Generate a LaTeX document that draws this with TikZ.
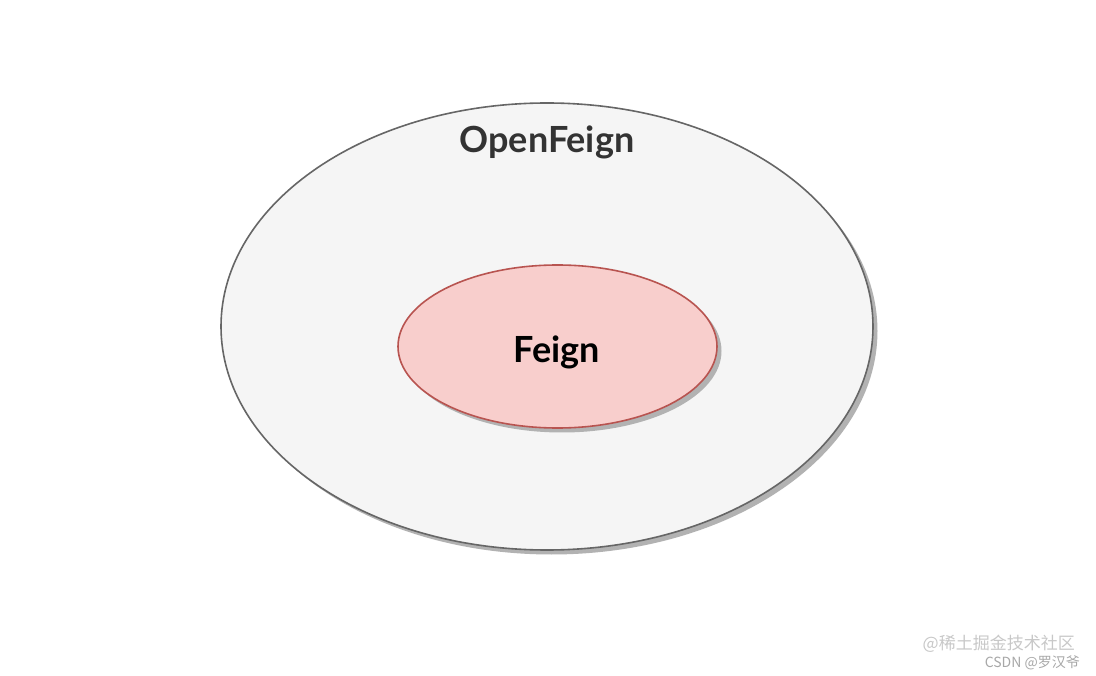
\documentclass[tikz,border=0pt]{standalone}
\usepackage{fontspec}
\setmainfont{Lato}
\newfontfamily\cjk{Noto Sans CJK SC}
\usetikzlibrary{shapes.geometric,shadows}
\definecolor{outerfill}{HTML}{F5F5F5}
\definecolor{outerline}{HTML}{666666}
\definecolor{innerfill}{HTML}{F8CECC}
\definecolor{innerline}{HTML}{B85450}
\definecolor{titletext}{HTML}{333333}
\definecolor{wmA}{HTML}{C8C8C8}
\definecolor{wmB}{HTML}{A8A8A8}
\tikzset{
  shadowed/.style={drop shadow={shadow xshift=4.5pt, shadow yshift=-4.5pt, fill=black!30, opacity=1}},
  setellipse/.style={ellipse, draw, line width=1.6pt, inner sep=0pt, shadowed},
  labeltext/.style={font=\fontsize{36}{40}\selectfont\bfseries},
  wm/.style={font=\cjk\fontsize{17}{19}\selectfont, anchor=east, inner sep=0pt}
}
\begin{document}
\begin{tikzpicture}[x=1pt,y=-1pt]
\useasboundingbox[fill=white] (0,0) rectangle (1096,676);
\node[setellipse, fill=outerfill, draw=outerline, minimum width=652pt, minimum height=447pt] (outer) at (547,326.5) {};
\node[labeltext, text=titletext] (outertitle) at (547,142) {OpenFeign};
\node[setellipse, fill=innerfill, draw=innerline, minimum width=319pt, minimum height=163pt] (inner) at (557.5,346.5) {};
\node[labeltext, text=black] (innertitle) at (557,352) {Feign};
\node[wm, text=wmA] (wm1) at (1075,644) {@稀土掘金技术社区};
\node[wm, text=wmB, font=\cjk\fontsize{14}{16}\selectfont] (wm2) at (1080,663) {CSDN @罗汉爷};
\end{tikzpicture}
\end{document}
